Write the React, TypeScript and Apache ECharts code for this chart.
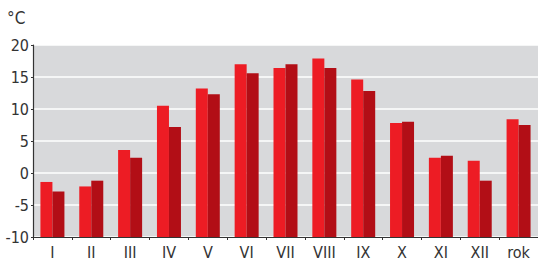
import React, { useEffect, useRef } from "react";
import * as echarts from "echarts";

const categories = ["I", "II", "III", "IV", "V", "VI", "VII", "VIII", "IX", "X", "XI", "XII", "rok"];
const seriesA = [-1.4, -2.1, 3.6, 10.5, 13.2, 17.0, 16.4, 17.9, 14.6, 7.8, 2.4, 1.9, 8.4];
const seriesB = [-2.9, -1.2, 2.4, 7.2, 12.3, 15.6, 17.0, 16.4, 12.8, 8.0, 2.7, -1.2, 7.5];
const unitLabel = "°C";
const axisMin = -10;
const axisMax = 20;

const FONT = "'DejaVu Sans Condensed', 'Liberation Sans Narrow', 'Noto Sans', sans-serif";

// Bars rise from the bottom of the axis (-10), so values are shifted onto a 0-based axis
const shift = (v: number) => v - axisMin;

export default function App() {
  const ref = useRef<HTMLDivElement>(null);
  useEffect(() => {
    document.body.style.margin = "0";
    const chart = echarts.init(ref.current!, null, { renderer: "svg" });
    chart.setOption({
      animation: false,
      grid: {
        left: 33,
        right: 0,
        top: 45,
        bottom: 22,
        show: true,
        backgroundColor: "#D8D9DB",
        borderWidth: 0,
      },
      graphic: [
        {
          type: "text",
          left: 7,
          top: 9,
          style: { text: unitLabel, fontSize: 17, fill: "#333", fontFamily: FONT },
        },
      ],
      xAxis: {
        type: "category",
        data: categories,
        axisLine: { show: true, lineStyle: { color: "#333", width: 1.2 } },
        axisTick: { show: true, length: 3, lineStyle: { color: "#333" } },
        axisLabel: { color: "#333", fontSize: 16, fontFamily: FONT, margin: 7 },
      },
      yAxis: {
        type: "value",
        min: 0,
        max: axisMax - axisMin,
        interval: 5,
        axisLine: { show: true, lineStyle: { color: "#333", width: 1.2 } },
        axisTick: { show: true, length: 2, lineStyle: { color: "#333" } },
        axisLabel: {
          color: "#333",
          fontSize: 16,
          fontFamily: FONT,
          margin: 4,
          formatter: (v: number) => String(v + axisMin),
        },
        splitLine: { show: true, lineStyle: { color: "#ffffff", width: 1.5 } },
      },
      series: [
        {
          type: "bar",
          data: seriesA.map(shift),
          barWidth: 12,
          barGap: "0%",
          itemStyle: { color: "#ED1C24" },
        },
        {
          type: "bar",
          data: seriesB.map(shift),
          barWidth: 12,
          barGap: "0%",
          itemStyle: { color: "#B20E16" },
        },
      ],
    });
    return () => chart.dispose();
  }, []);
  return <div ref={ref} style={{ width: 538, height: 260 }} />;
}
